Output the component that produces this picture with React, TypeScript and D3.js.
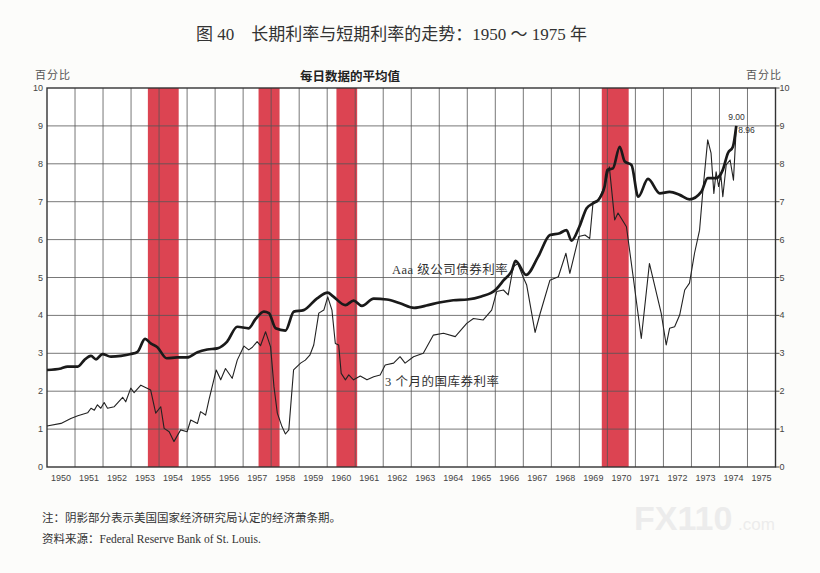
import * as d3 from 'd3'
import { useMemo } from 'react'

// Aaa 级公司债券利率 (thick line)
const aaaTime = [
  1950.0, 1950.5, 1950.73, 1951.1, 1951.33, 1951.57, 1951.75, 1951.98, 1952.28, 1952.64,
  1952.99, 1953.23, 1953.5, 1953.7, 1953.94, 1954.27, 1954.65, 1955.0, 1955.37, 1955.72,
  1956.08, 1956.43, 1956.79, 1957.2, 1957.44, 1957.74, 1957.92, 1958.16, 1958.51, 1958.81,
  1959.16, 1959.64, 1960.02, 1960.2, 1960.65, 1960.94, 1961.24, 1961.66, 1962.13, 1962.6,
  1963.1, 1963.6, 1964.0, 1964.5, 1965.0, 1965.5, 1966.0, 1966.3, 1966.6, 1966.72,
  1967.1, 1967.53, 1967.95, 1968.3, 1968.54, 1968.72, 1969.0, 1969.26, 1969.5, 1969.67,
  1969.9, 1970.0, 1970.2, 1970.44, 1970.62, 1970.86, 1971.1, 1971.45, 1971.87, 1972.22,
  1972.58, 1972.93, 1973.35, 1973.58, 1973.88, 1974.12, 1974.3, 1974.48, 1974.6,
]
const aaaRate = [
  2.56, 2.6, 2.65, 2.65, 2.82, 2.93, 2.84, 2.98, 2.91, 2.93,
  2.98, 3.04, 3.38, 3.26, 3.16, 2.87, 2.89, 2.89, 3.03, 3.1,
  3.13, 3.31, 3.7, 3.66, 3.9, 4.1, 4.06, 3.66, 3.6, 4.1,
  4.14, 4.45, 4.6, 4.51, 4.27, 4.39, 4.25, 4.44, 4.42, 4.32,
  4.2, 4.27, 4.34, 4.4, 4.42, 4.5, 4.67, 4.93, 5.2, 5.44,
  5.07, 5.55, 6.12, 6.17, 6.25, 5.97, 6.34, 6.83, 6.96, 7.04,
  7.4, 7.84, 7.88, 8.45, 8.06, 7.97, 7.13, 7.6, 7.22, 7.26,
  7.18, 7.06, 7.26, 7.62, 7.62, 7.84, 8.28, 8.45, 9.0,
]

// 3 个月的国库券利率 (thin line)
const billTime = [
  1950.0, 1950.5, 1950.85, 1951.1, 1951.45, 1951.57, 1951.69, 1951.8, 1951.92, 1952.04,
  1952.16, 1952.4, 1952.7, 1952.81, 1952.99, 1953.11, 1953.35, 1953.7, 1953.88, 1954.06,
  1954.18, 1954.36, 1954.53, 1954.77, 1955.0, 1955.13, 1955.37, 1955.48, 1955.66, 1955.78,
  1956.04, 1956.2, 1956.37, 1956.61, 1956.79, 1957.03, 1957.2, 1957.33, 1957.5, 1957.62,
  1957.8, 1957.98, 1958.1, 1958.22, 1958.39, 1958.51, 1958.63, 1958.8, 1959.05, 1959.22,
  1959.38, 1959.52, 1959.7, 1959.88, 1960.02, 1960.17, 1960.29, 1960.41, 1960.5, 1960.65,
  1960.77, 1960.94, 1961.18, 1961.42, 1961.66, 1961.89, 1962.07, 1962.37, 1962.6, 1962.78,
  1963.08, 1963.43, 1963.79, 1964.15, 1964.57, 1964.98, 1965.22, 1965.57, 1965.87, 1966.05,
  1966.29, 1966.46, 1966.64, 1966.8, 1967.0, 1967.12, 1967.42, 1967.6, 1967.95, 1968.25,
  1968.52, 1968.66, 1968.98, 1969.2, 1969.37, 1969.49, 1969.67, 1969.9, 1970.07, 1970.26,
  1970.38, 1970.68, 1970.92, 1971.21, 1971.5, 1971.92, 1972.1, 1972.22, 1972.4, 1972.58,
  1972.76, 1972.93, 1973.11, 1973.29, 1973.41, 1973.58, 1973.7, 1973.8, 1973.88, 1973.97,
  1974.05, 1974.12, 1974.24, 1974.38, 1974.5, 1974.6,
]
const billRate = [
  1.08, 1.15, 1.28, 1.35, 1.43, 1.55, 1.5, 1.64, 1.55, 1.7,
  1.55, 1.59, 1.84, 1.72, 2.08, 1.96, 2.16, 2.03, 1.42, 1.59,
  1.02, 0.93, 0.67, 0.98, 0.93, 1.24, 1.15, 1.46, 1.37, 1.77,
  2.56, 2.3, 2.6, 2.34, 2.82, 3.19, 3.09, 3.16, 3.31, 3.2,
  3.57, 3.17, 2.12, 1.42, 1.06, 0.87, 0.98, 2.56, 2.74, 2.82,
  2.95, 3.22, 4.06, 4.14, 4.49, 4.14, 3.26, 3.22, 2.47, 2.3,
  2.43, 2.3, 2.4, 2.3, 2.38, 2.43, 2.69, 2.74, 2.91, 2.74,
  2.91, 3.0, 3.48, 3.53, 3.44, 3.79, 3.92, 3.88, 4.14, 4.63,
  4.67, 4.54, 5.28, 5.37, 5.0, 4.8, 3.55, 4.05, 4.93, 5.02,
  5.64, 5.11, 6.08, 6.12, 6.03, 7.0, 7.04, 7.4, 7.92, 6.52,
  6.7, 6.34, 5.02, 3.39, 5.37, 4.06, 3.22, 3.66, 3.7, 4.01,
  4.67, 4.85, 5.64, 6.25, 7.31, 8.63, 8.28, 7.22, 7.79, 7.4,
  7.7, 7.13, 7.97, 8.1, 7.57, 8.96,
]

// 经济萧条期 (NBER recessions)
const recessionStart = [1953.6, 1957.55, 1960.33, 1969.8]
const recessionEnd = [1954.7, 1958.3, 1961.07, 1970.76]

const years = d3.range(1950, 1976)
const rateTicks = d3.range(0, 11)

const W = 820
const H = 573
const plotLeft = 47
const plotRight = 775.5
const plotTop = 88
const plotBottom = 467

const serif = '"Liberation Serif", "DejaVu Serif", "Noto Sans CJK SC", serif'
const sans = '"Liberation Sans", Arial, "Noto Sans CJK SC", sans-serif'
const cjk = '"Noto Sans CJK SC", "Liberation Sans", sans-serif'

export default function App() {
  const x = useMemo(() => d3.scaleLinear().domain([1950, 1976]).range([plotLeft, plotRight]), [])
  const y = useMemo(() => d3.scaleLinear().domain([0, 10]).range([plotBottom, plotTop]), [])

  const aaaPath = d3
    .line<number>()
    .x((_, i) => x(aaaTime[i]))
    .y((d) => y(d))
    .curve(d3.curveMonotoneX)(aaaRate)
  const billPath = d3
    .line<number>()
    .x((_, i) => x(billTime[i]))
    .y((d) => y(d))(billRate)

  const aaaLast = aaaRate[aaaRate.length - 1]
  const billLast = billRate[billRate.length - 1]

  return (
    <div style={{ position: 'absolute', left: 0, top: 0 }}>
      <svg width={W} height={H} viewBox={`0 0 ${W} ${H}`} style={{ display: 'block', background: '#fcfcfa' }}>
        <text x={196} y={40} fontFamily={serif} fontSize={17} fill="#333">
          图 40　长期利率与短期利率的走势：1950 ～ 1975 年
        </text>

        <text x={35} y={79} fontFamily={cjk} fontSize={11} fill="#555" letterSpacing={1}>
          百分比
        </text>
        <text x={746} y={79} fontFamily={cjk} fontSize={11} fill="#555" letterSpacing={1}>
          百分比
        </text>
        <text x={300} y={81} fontFamily={cjk} fontSize={12.5} fontWeight="bold" fill="#222">
          每日数据的平均值
        </text>

        <rect x={plotLeft} y={plotTop} width={plotRight - plotLeft} height={plotBottom - plotTop} fill="#ffffff" />

        {recessionStart.map((s, i) => (
          <rect
            key={`rec-${s}`}
            x={x(s)}
            y={plotTop}
            width={x(recessionEnd[i]) - x(s)}
            height={plotBottom - plotTop}
            fill="#dc4452"
          />
        ))}

        {years.slice(1).map((yr) => (
          <line key={`vg-${yr}`} x1={x(yr)} x2={x(yr)} y1={plotTop} y2={plotBottom} stroke="#555" strokeWidth={0.8} />
        ))}
        {rateTicks.slice(1, -1).map((t) => (
          <line key={`hg-${t}`} x1={plotLeft} x2={plotRight} y1={y(t)} y2={y(t)} stroke="#555" strokeWidth={0.8} />
        ))}

        <rect
          x={plotLeft}
          y={plotTop}
          width={plotRight - plotLeft}
          height={plotBottom - plotTop}
          fill="none"
          stroke="#333"
          strokeWidth={1.4}
        />

        {rateTicks.map((t) => (
          <g key={`yt-${t}`}>
            <text x={plotLeft - 4} y={y(t) + 3} textAnchor="end" fontFamily={sans} fontSize={9} fill="#444">
              {t}
            </text>
            <line x1={plotRight} x2={plotRight + 4} y1={y(t)} y2={y(t)} stroke="#333" strokeWidth={0.9} />
            <text x={plotRight + 4} y={y(t) + 3} fontFamily={sans} fontSize={9} fill="#444">
              {t}
            </text>
          </g>
        ))}

        {years.map((yr) => (
          <text key={`xt-${yr}`} x={x(yr + 0.5)} y={481} textAnchor="middle" fontFamily={sans} fontSize={9} fill="#444">
            {yr}
          </text>
        ))}

        <path d={billPath ?? ''} fill="none" stroke="#222" strokeWidth={1.1} strokeLinejoin="round" />
        <path d={aaaPath ?? ''} fill="none" stroke="#1a1a1a" strokeWidth={2.7} strokeLinejoin="round" />

        <text x={x(1974.6) - 8} y={y(aaaLast) - 6} fontFamily={sans} fontSize={8.5} fill="#333">
          {aaaLast.toFixed(2)}
        </text>
        <text x={x(1974.6) + 2} y={y(billLast) + 6} fontFamily={sans} fontSize={8.5} fill="#333">
          {billLast.toFixed(2)}
        </text>

        <text x={392} y={274} fontFamily={serif} fontSize={12.5} fill="#333" letterSpacing={0.5}>
          Aaa 级公司债券利率
        </text>
        <text x={385} y={386} fontFamily={serif} fontSize={12.5} fill="#333" letterSpacing={0.5}>
          3 个月的国库券利率
        </text>

        <text x={42} y={522} fontFamily={serif} fontSize={11.5} fill="#333">
          注：阴影部分表示美国国家经济研究局认定的经济萧条期。
        </text>
        <text x={42} y={543} fontFamily={serif} fontSize={11.5} fill="#333">
          资料来源：Federal Reserve Bank of St. Louis.
        </text>

        <text x={634} y={530} fontFamily={sans} fontSize={34} fontWeight="bold" fill="#ececec">
          FX110
        </text>
        <text x={738} y={530} fontFamily={sans} fontSize={17} fill="#ececec">
          .com
        </text>
      </svg>
    </div>
  )
}
